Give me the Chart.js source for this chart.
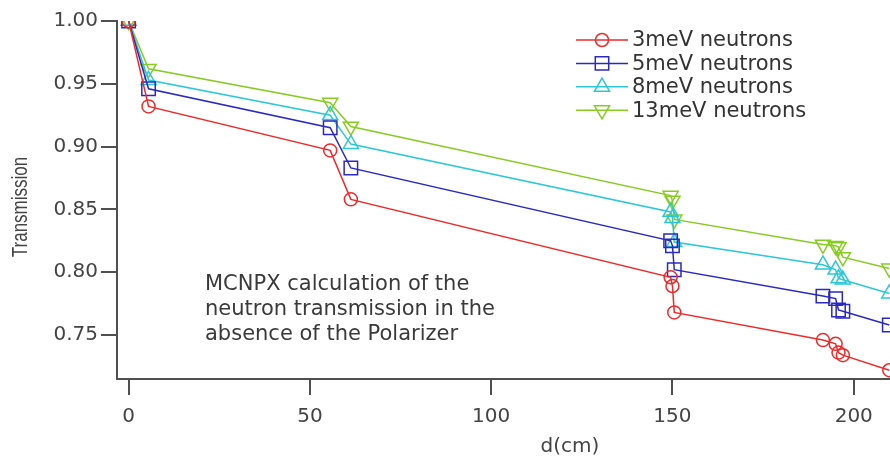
<!DOCTYPE html>
<html>
<head>
<meta charset="utf-8">
<script src="https://cdn.jsdelivr.net/npm/chart.js@4.4.1/dist/chart.umd.min.js"></script>
<style>
  html, body { margin: 0; padding: 0; background: #fff; }
  #wrap { width: 890px; height: 460px; }
</style>
</head>
<body>
<div id="wrap"><canvas id="transmissionChart"></canvas></div>
<script>
// distance along the guide, cm
const distances = [0, 5.5, 55.6, 61.3, 149.5, 150, 150.5, 191.5, 195, 195.8, 197, 209.8];

// MCNPX transmission per neutron energy
const trans3meV  = [1.0, 0.932, 0.897, 0.858, 0.796, 0.789, 0.768, 0.746, 0.743, 0.736, 0.734, 0.722];
const trans5meV  = [1.0, 0.946, 0.915, 0.883, 0.825, 0.821, 0.802, 0.781, 0.779, 0.770, 0.769, 0.758];
const trans8meV  = [1.0, 0.953, 0.925, 0.902, 0.848, 0.843, 0.824, 0.806, 0.802, 0.795, 0.794, 0.783];
const trans13meV = [1.0, 0.962, 0.935, 0.916, 0.861, 0.857, 0.842, 0.822, 0.821, 0.820, 0.812, 0.803];

const seriesLabels = ['3meV neutrons', '5meV neutrons', '8meV neutrons', '13meV neutrons'];
const xTicks = [0, 50, 100, 150, 200];
const yTicks = [0.75, 0.80, 0.85, 0.90, 0.95, 1.00];
const noteLines = ['MCNPX calculation of the', 'neutron transmission in the', 'absence of the Polarizer'];

const FONT = '"DejaVu Sans", sans-serif';
const AXIS = '#505050';

const toPoints = ys => distances.map((d, i) => ({ x: d, y: ys[i] }));

function series(label, ys, color, style, radius, rotation) {
    return {
        label: label,
        data: toPoints(ys),
        borderColor: color,
        borderWidth: 1.5,
        pointStyle: style,
        pointRadius: radius,
        pointRotation: rotation,
        pointBorderColor: color,
        pointBorderWidth: 1.5,
        pointBackgroundColor: 'rgba(0,0,0,0)',
        pointHoverRadius: radius,
        tension: 0,
        fill: false
    };
}

// legend with a line through each marker, plus the axis titles and the note
const decorations = {
    id: 'decorations',
    afterDraw(chart) {
        const ctx = chart.ctx;
        ctx.save();

        ctx.font = '21px ' + FONT;
        ctx.textBaseline = 'middle';
        chart.data.datasets.forEach((ds, i) => {
            const y = 40 + i * 23.4;
            ctx.strokeStyle = ds.borderColor;
            ctx.lineWidth = 1.5;
            ctx.beginPath();
            ctx.moveTo(576, y);
            ctx.lineTo(628, y);
            ctx.stroke();
            ctx.fillStyle = 'rgba(0,0,0,0)';
            Chart.helpers.drawPoint(ctx, {
                pointStyle: ds.pointStyle,
                rotation: ds.pointRotation,
                radius: ds.pointRadius,
                borderWidth: 1.5
            }, 602, y);
            ctx.fillStyle = '#333';
            ctx.textAlign = 'left';
            ctx.fillText(ds.label, 632, y + 1);
        });

        // note inside the plot
        ctx.fillStyle = '#3a3a3a';
        ctx.textBaseline = 'alphabetic';
        noteLines.forEach((t, i) => ctx.fillText(t, 205, 290 + i * 25));

        // axis titles
        ctx.fillStyle = '#444';
        ctx.font = '20px ' + FONT;
        ctx.textAlign = 'center';
        ctx.textBaseline = 'middle';
        ctx.fillText('d(cm)', 570, 447);

        ctx.translate(21, 207);
        ctx.rotate(-Math.PI / 2);
        ctx.scale(1, 1.25);
        ctx.font = '17px "Liberation Sans", Arial, sans-serif';
        ctx.fillText('Transmission', 0, 0);
        ctx.restore();
    }
};

new Chart(document.getElementById('transmissionChart').getContext('2d'), {
    type: 'line',
    data: {
        datasets: [
            series(seriesLabels[0], trans3meV, '#ee2a2a', 'circle', 6.5, 0),
            series(seriesLabels[1], trans5meV, '#2a2ac0', 'rect', 9.5, 0),
            series(seriesLabels[2], trans8meV, '#2cc8d8', 'triangle', 8.7, 0),
            series(seriesLabels[3], trans13meV, '#88cc22', 'triangle', 8.7, 180)
        ]
    },
    options: {
        responsive: true,
        maintainAspectRatio: false,
        animation: false,
        layout: { autoPadding: false, padding: { top: 21, right: 0, left: 0, bottom: 0 } },
        plugins: {
            legend: { display: false },
            tooltip: { enabled: false }
        },
        scales: {
            x: {
                type: 'linear',
                min: -3.2,
                max: 210,
                afterBuildTicks: s => { s.ticks = xTicks.map(v => ({ value: v })); },
                afterFit: s => { s.height = 81; },
                grid: { drawOnChartArea: false, drawTicks: true, tickLength: 16, color: AXIS, lineWidth: 2 },
                border: { display: true, color: AXIS, width: 2 },
                ticks: {
                    color: '#444',
                    padding: 10,
                    font: { family: FONT, size: 20 },
                    maxRotation: 0,
                    autoSkip: false
                }
            },
            y: {
                type: 'linear',
                min: 0.715,
                max: 1.0,
                afterBuildTicks: s => { s.ticks = yTicks.map(v => ({ value: v })); },
                afterFit: s => { s.width = 117; },
                grid: { drawOnChartArea: false, drawTicks: true, tickLength: 16, color: AXIS, lineWidth: 2 },
                border: { display: true, color: AXIS, width: 2 },
                ticks: {
                    color: '#444',
                    padding: 3,
                    font: { family: FONT, size: 20 },
                    callback: v => v.toFixed(2)
                }
            }
        }
    },
    plugins: [decorations]
});
</script>
</body>
</html>
